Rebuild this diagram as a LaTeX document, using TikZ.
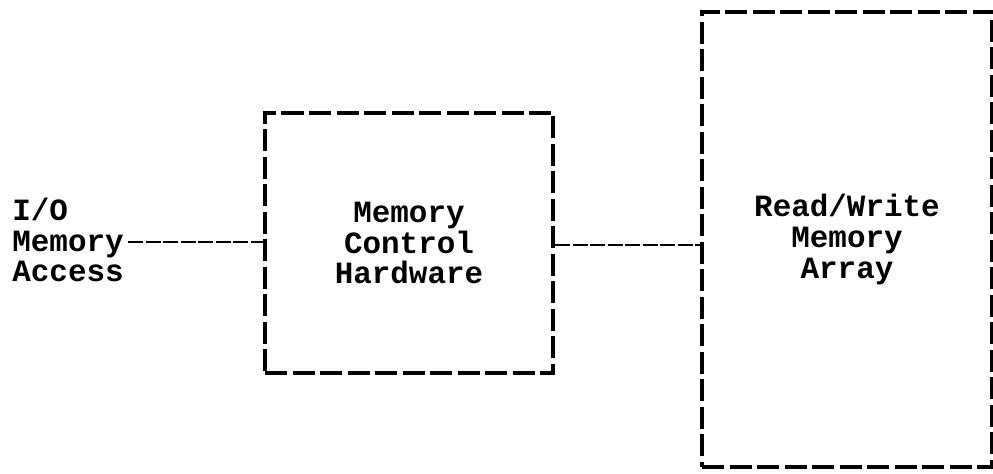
\documentclass[tikz,border=0pt]{standalone}
\usepackage{fontspec}
\setmonofont{Liberation Mono}
\usetikzlibrary{positioning}

\begin{document}
\begin{tikzpicture}[
  font=\ttfamily\bfseries\fontsize{17.6}{17.6}\selectfont,
  block/.style={draw,line width=2.4pt,dash pattern=on 0.44cm off 0.11cm,align=center,inner sep=0pt},
  link/.style={line width=1.4pt,dash pattern=on 0.3cm off 0.05cm}
]
\useasboundingbox (0,0) rectangle (19.86,9.48);
\node[align=left,anchor=west,inner sep=0pt] (ioa) at (0.24,4.68) {I/O\\Memory\\Access};
\node[block,minimum width=5.76cm,minimum height=5.2cm] (mch) at (8.18,4.62) {Memory\\Control\\Hardware};
\node[block,minimum width=5.8cm,minimum height=9.1cm] (rwm) at (16.94,4.69) {Read/Write\\Memory\\Array};

\draw[link] (ioa.east) ++(0.08,-0.04) coordinate (ioe) -- (ioe -| mch.west);
\draw[link] ([yshift=-0.04cm]mch.east) -- ([yshift=-0.04cm]mch.east -| rwm.west);
\end{tikzpicture}
\end{document}
